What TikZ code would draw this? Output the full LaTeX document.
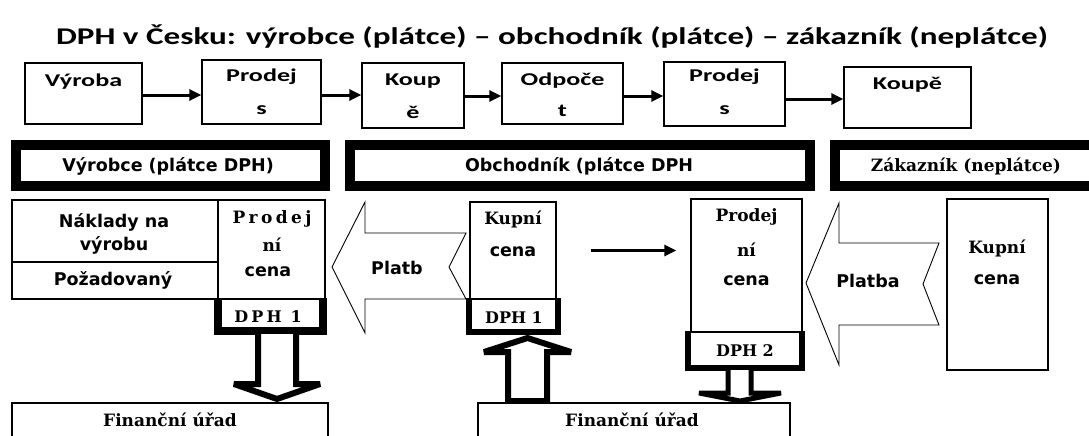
\documentclass[tikz,border=0pt]{standalone}
\usepackage{fontspec}
\usetikzlibrary{arrows.meta}
\newfontfamily\headfont{Carlito}
\newfontfamily\labelsans{DejaVu Sans}
\newfontfamily\labelserif{DejaVu Serif}
\newfontfamily\labelserifwide{DejaVu Serif}[LetterSpace=20]
\newcommand\stretched[1]{\scalebox{1.45}[1]{#1}}

\begin{document}
\begin{tikzpicture}[x=1pt,y=-1pt,
  box/.style 2 args={draw, line width=1.4pt, fill=white, inner sep=0pt,
    minimum width=#1, minimum height=#2},
  band/.style 2 args={draw, line width=10pt, fill=white, inner sep=0pt,
    minimum width=#1, minimum height=#2},
  flow/.style={line width=3pt, -{Triangle[length=12pt,width=11pt]}},
  blockarrow/.style={draw, line width=#1, fill=white, miter limit=4},
  payarrow/.style={draw, line width=0.9pt, fill=white},
  heading/.style={inner sep=0pt, font=\headfont\bfseries\fontsize{24}{28}\selectfont},
  toptext/.style={inner sep=0pt, font=\headfont\bfseries\fontsize{18}{20}\selectfont},
  sanslabel/.style={inner sep=0pt, font=\labelsans\bfseries\fontsize{17.5}{20}\selectfont},
  seriflabel/.style={inner sep=0pt, font=\labelserif\bfseries\fontsize{17}{20}\selectfont},
  widelabel/.style={inner sep=0pt, font=\labelserifwide\bfseries\fontsize{17}{20}\selectfont},
  dphlabel/.style={inner sep=0pt, font=\labelserif\bfseries\fontsize{16}{18}\selectfont},
  widedph/.style={inner sep=0pt, font=\labelserifwide\bfseries\fontsize{16}{18}\selectfont},
]
\useasboundingbox (0,0) rectangle (1089,436);
\fill[white] (0,0) rectangle (1089,436);

% heading
\node[heading] (title) at (552,37)
  {\scalebox{1.38}[1]{DPH v Česku: výrobce (plátce) – obchodník (plátce) – zákazník (neplátce)}};

% process steps
\node[box={117}{61}] (vyroba)  at (83.5,93.5) {};
\node[box={119}{64}] (prodejA) at (261.5,92) {};
\node[box={102}{65}] (koupeA)  at (413,95.5) {};
\node[box={121}{61}] (odpocet) at (562.5,93.5) {};
\node[box={121}{64}] (prodejB) at (724.5,94) {};
\node[box={127}{61}] (koupeB)  at (907.5,97.5) {};

\node[toptext] (t1)  at (83.5,82)  {\stretched{Výroba}};
\node[toptext] (t2a) at (261.5,77) {\stretched{Prodej}};
\node[toptext] (t2b) at (261.5,110) {\stretched{s}};
\node[toptext] (t3a) at (413,81)   {\stretched{Koup}};
\node[toptext] (t3b) at (413,112)  {\stretched{ě}};
\node[toptext] (t4a) at (562.5,81) {\stretched{Odpoče}};
\node[toptext] (t4b) at (562.5,111) {\stretched{t}};
\node[toptext] (t5a) at (724.5,77) {\stretched{Prodej}};
\node[toptext] (t5b) at (724.5,110) {\stretched{s}};
\node[toptext] (t6)  at (907.5,85) {\stretched{Koupě}};

\draw[flow] (vyroba.east |- 0,95)  -- (prodejA.west |- 0,95);
\draw[flow] (prodejA.east |- 0,95) -- (koupeA.west |- 0,95);
\draw[flow] (koupeA.east |- 0,96)  -- (odpocet.west |- 0,96);
\draw[flow] (odpocet.east |- 0,96) -- (prodejB.west |- 0,96);
\draw[flow] (prodejB.east |- 0,99) -- (koupeB.west |- 0,99);

% parties
\node[band={309}{41}] (producer) at (170.5,165.5) {};
\node[band={460}{41}] (trader)   at (580,165.5) {};
\node[band={265}{41}] (customer) at (967.5,165.5) {};
\node[sanslabel]  (producerT) at (168,166) {Výrobce (plátce DPH)};
\node[sanslabel]  (traderT)   at (579,166) {Obchodník (plátce DPH};
\node[seriflabel] (customerT) at (966,166) {Zákazník (neplátce)};

% producer: price build-up
\node[box={206}{62}] (naklady)    at (115,231) {};
\node[box={206}{37}] (pozadovany) at (115,280.5) {};
\node[box={107}{99}] (prodejniA)  at (271.5,249.5) {};
\node[sanslabel]  (nakladyT1) at (114,222) {Náklady na};
\node[sanslabel]  (nakladyT2) at (114,245) {výrobu};
\node[sanslabel]  (pozadT)    at (113,280) {Požadovaný};
\node[widelabel]  (prodAT1)   at (272,219) {Prodej};
\node[seriflabel] (prodAT2)   at (272,245) {ní};
\node[sanslabel]  (prodAT3)   at (268,272) {cena};

\node[box={103}{31}] (dphA) at (270.5,314.5) {};
\draw[line width=8pt] (dphA.north west) -- (dphA.south west) -- (dphA.south east) -- (dphA.north east);
\node[widedph] (dphAT) at (268,317) {DPH 1};

% VAT paid to the tax office
\draw[blockarrow=6pt] (258,334) -- (258,384) -- (234,384) -- (277,399) -- (320,384) -- (296,384) -- (296,334);
\node[box={316}{50}] (urad1) at (170,428) {};
\node[seriflabel] (urad1T) at (170,420) {Finanční úřad};

% trader
\draw[payarrow] (466,233) -- (365,233) -- (365,202) -- (332,267) -- (365,333) -- (365,299) -- (466,299) -- (449,267) -- cycle;
\node[sanslabel] (platbT1) at (397,268) {Platb};

\node[box={86}{97}] (kupniA) at (513,250.5) {};
\node[seriflabel] (kupATa) at (513,219) {Kupní};
\node[sanslabel]  (kupATb) at (513,252) {cena};
\node[box={87}{32}] (dphB) at (513.5,315) {};
\draw[line width=6pt] (dphB.north west) -- (dphB.south west) -- (dphB.south east) -- (dphB.north east);
\node[dphlabel] (dphBT) at (514,318) {DPH 1};

\draw[blockarrow=6pt] (508,401) -- (508,352) -- (484,352) -- (527.5,338) -- (571,352) -- (547,352) -- (547,401) -- cycle;
\node[box={312}{50}] (urad2) at (634,428) {};
\node[seriflabel] (urad2T) at (632,420) {Finanční úřad};

\node[box={111}{133}] (prodejniB) at (746.5,265.5) {};
\draw[flow, shorten <=34pt, shorten >=14pt] (kupniA.east) -- (kupniA.east -| prodejniB.west);
\node[seriflabel] (prodBT1) at (746.5,217) {Prodej};
\node[seriflabel] (prodBT2) at (746.5,250) {ní};
\node[sanslabel]  (prodBT3) at (746.5,281) {cena};

\node[box={112}{35}] (dphC) at (745,349.5) {};
\draw[line width=6pt] (dphC.north west) -- (dphC.south west) -- (dphC.south east) -- (dphC.north east);
\node[dphlabel] (dphCT) at (745,351) {DPH 2};
\draw[blockarrow=5pt] (728,370) -- (728,393) -- (699,393) -- (740,401) -- (781,393) -- (751,393) -- (751,370);

% customer
\draw[payarrow] (939,243) -- (839,243) -- (839,203) -- (806,283) -- (839,365) -- (839,325) -- (939,325) -- (923,284) -- cycle;
\node[sanslabel] (platbT2) at (868,281) {Platba};

\node[box={101}{171}] (kupniB) at (997.5,284.5) {};
\node[seriflabel] (kupBTa) at (997,248) {Kupní};
\node[sanslabel]  (kupBTb) at (997,280) {cena};
\end{tikzpicture}
\end{document}
